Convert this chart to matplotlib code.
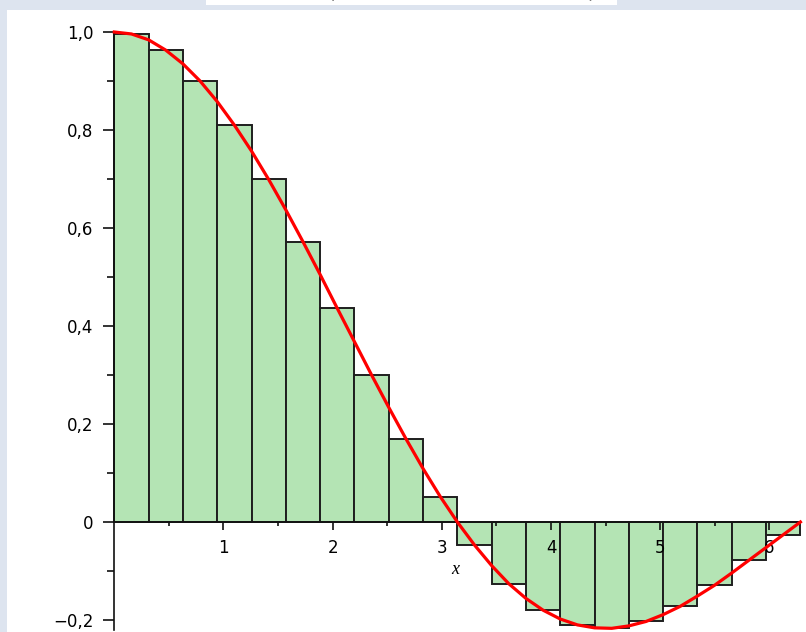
import matplotlib
matplotlib.use("Agg")
import matplotlib.pyplot as plt
import numpy as np
from matplotlib.patches import Rectangle
from matplotlib.ticker import MultipleLocator, FixedLocator

# bar heights (20 strips over [0, 2*pi])
bar_heights = [0.996, 0.963, 0.900, 0.810, 0.699, 0.572, 0.436, 0.300, 0.170, 0.052,
               -0.047, -0.126, -0.180, -0.210, -0.217, -0.203, -0.172, -0.129, -0.078, -0.026]

# red curve, read at 41 evenly spaced points over [0, 2*pi]
curve_y = [1.000, 0.996, 0.984, 0.963, 0.935, 0.900, 0.858, 0.810, 0.757, 0.699,
           0.637, 0.572, 0.505, 0.436, 0.368, 0.300, 0.234, 0.170, 0.109, 0.052,
           0.000, -0.047, -0.089, -0.126, -0.156, -0.180, -0.198, -0.210, -0.216, -0.217,
           -0.212, -0.203, -0.189, -0.172, -0.151, -0.129, -0.104, -0.078, -0.052, -0.026,
           0.000]

xticks = [1, 2, 3, 4, 5, 6]
xticklabels = ["1", "2", "3", "4", "5", "6"]
yticks = [-0.2, 0, 0.2, 0.4, 0.6, 0.8, 1.0]
yticklabels = ["\u22120,2", "0", "0,2", "0,4", "0,6", "0,8", "1,0"]

x_end = 2 * np.pi
edges = np.linspace(0, x_end, len(bar_heights) + 1)
width = edges[1] - edges[0]
curve_x = np.linspace(0, x_end, len(curve_y))

W, H = 806, 632
fig = plt.figure(figsize=(W / 100, H / 100), dpi=100)
fig.patch.set_facecolor("#dde4ef")

# white slide area and the top white box
fig.add_artist(Rectangle((7 / W, 0), 1, 1 - 10 / H, transform=fig.transFigure,
                         facecolor="white", edgecolor="none", zorder=0))
fig.add_artist(Rectangle((206 / W, 1 - 5 / H), 411 / W, 5 / H, transform=fig.transFigure,
                         facecolor="white", edgecolor="none", zorder=0))
fig.text(331 / W, 1 + 8 / H, "(", fontsize=14, ha="center", va="center")
fig.text(591 / W, 1 + 8 / H, ")", fontsize=14, ha="center", va="center")

ax = fig.add_axes([114.3 / W, 2.2 / H, 686.1 / W, 597.8 / H])
ax.set_facecolor("none")

ax.bar(edges[:-1], bar_heights, width=width, align="edge", color="#b4e4b4",
       edgecolor="#1e1e1e", linewidth=1.4, zorder=1, clip_on=False)
ax.plot(curve_x, curve_y, color="#ff0000", linewidth=2.3, zorder=3, clip_on=False)

ax.set_xlim(0, x_end)
ax.set_ylim(-0.22, 1.0)

for s in ["top", "right"]:
    ax.spines[s].set_visible(False)
ax.spines["left"].set_position(("data", 0))
ax.spines["bottom"].set_position(("data", 0))
for s in ["left", "bottom"]:
    ax.spines[s].set_linewidth(1.2)
    ax.spines[s].set_color("#111111")

ax.xaxis.set_major_locator(FixedLocator(xticks))
ax.set_xticklabels(xticklabels)
ax.xaxis.set_minor_locator(FixedLocator([0.5, 1.5, 2.5, 3.5, 4.5, 5.5]))
ax.yaxis.set_major_locator(FixedLocator(yticks))
ax.set_yticklabels(yticklabels)
ax.yaxis.set_minor_locator(MultipleLocator(0.1))

ax.tick_params(axis="x", which="major", direction="out", length=6, width=1.2,
               pad=6, labelsize=12, color="#111111")
ax.tick_params(axis="x", which="minor", direction="out", length=3, width=1.2,
               color="#111111")
ax.tick_params(axis="y", which="major", direction="out", length=8, width=1.2,
               pad=7, labelsize=12, color="#111111")
ax.tick_params(axis="y", which="minor", direction="out", length=5, width=1.2,
               color="#111111")

fig.text(455 / W, 1 - 570 / H, "x", fontsize=13, style="italic",
         family="Liberation Serif", ha="center", va="center")

fig.savefig("out.png", dpi=100, facecolor=fig.get_facecolor())
